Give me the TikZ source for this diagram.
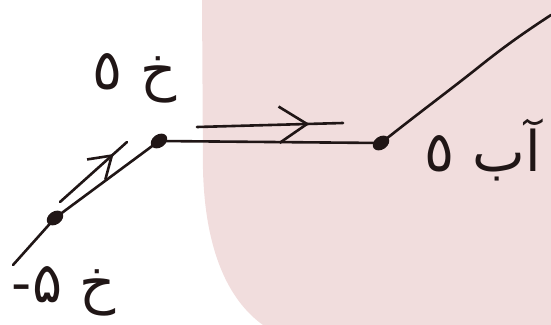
\documentclass[tikz,border=0pt]{standalone}
\usepackage{fontspec}
\newfontfamily\arabicfont[Script=Arabic]{DejaVu Sans}
\TeXXeTstate=1
\usetikzlibrary{positioning,shapes.geometric,arrows.meta,decorations.markings}
\definecolor{pinkbg}{RGB}{241,221,221}
\definecolor{ink}{RGB}{32,22,22}

\begin{document}
\begin{tikzpicture}[x=1pt,y=-1pt,
    wire/.style={draw=ink,line width=2.6pt,line cap=round,line join=round},
    dotnode/.style={ellipse,fill=ink,minimum width=18pt,minimum height=13pt,inner sep=0pt,rotate=35},
    midarrow/.style 2 args={wire,decoration={markings,
      mark=at position #1 with {\arrow{Straight Barb[length=#2,width=1.3*#2,line width=2.6pt]}}},
      postaction={decorate}},
    lbl/.style={text=ink,inner sep=0pt,font=\arabicfont\fontsize{56}{56}\selectfont}]

    % background
    \useasboundingbox (0,0) rectangle (551,324);
    \fill[pinkbg] (202,-1) -- (203,170) .. controls (205,250) and (228,300) .. (263,325)
                  -- (552,325) -- (552,-1) -- cycle;

    % points
    \node[dotnode] (p1) at (55,218) {};
    \node[dotnode] (p2) at (159,141) {};
    \node[dotnode] (p3) at (381,143) {};
    \coordinate (s) at (13,265);
    \coordinate (e) at (551,15);

    \draw[wire] (s) -- (p1.center) -- (p2.center) -- (p3.center)
      .. controls (420,112) and (450,90) .. (480,66)
      .. controls (505,46) and (525,32) .. (e);

    % direction arrows
    \coordinate (a1) at (60,202);
    \coordinate (a2) at (127,142);
    \coordinate (b1) at (197,127);
    \coordinate (b2) at (343,123);
    \draw[midarrow={0.8}{21pt}] (a1) -- (a2);
    \draw[midarrow={0.77}{28pt}] (b1) -- (b2);

    % labels
    \node[lbl] (l2) at (135,78) {\beginR خ ٥\endR};
    \node[lbl] (l1) at (64,291) {\beginR خ ۵-\endR};
    \node[lbl] (l3) at (483,150) {\beginR آب ٥\endR};
\end{tikzpicture}
\end{document}
